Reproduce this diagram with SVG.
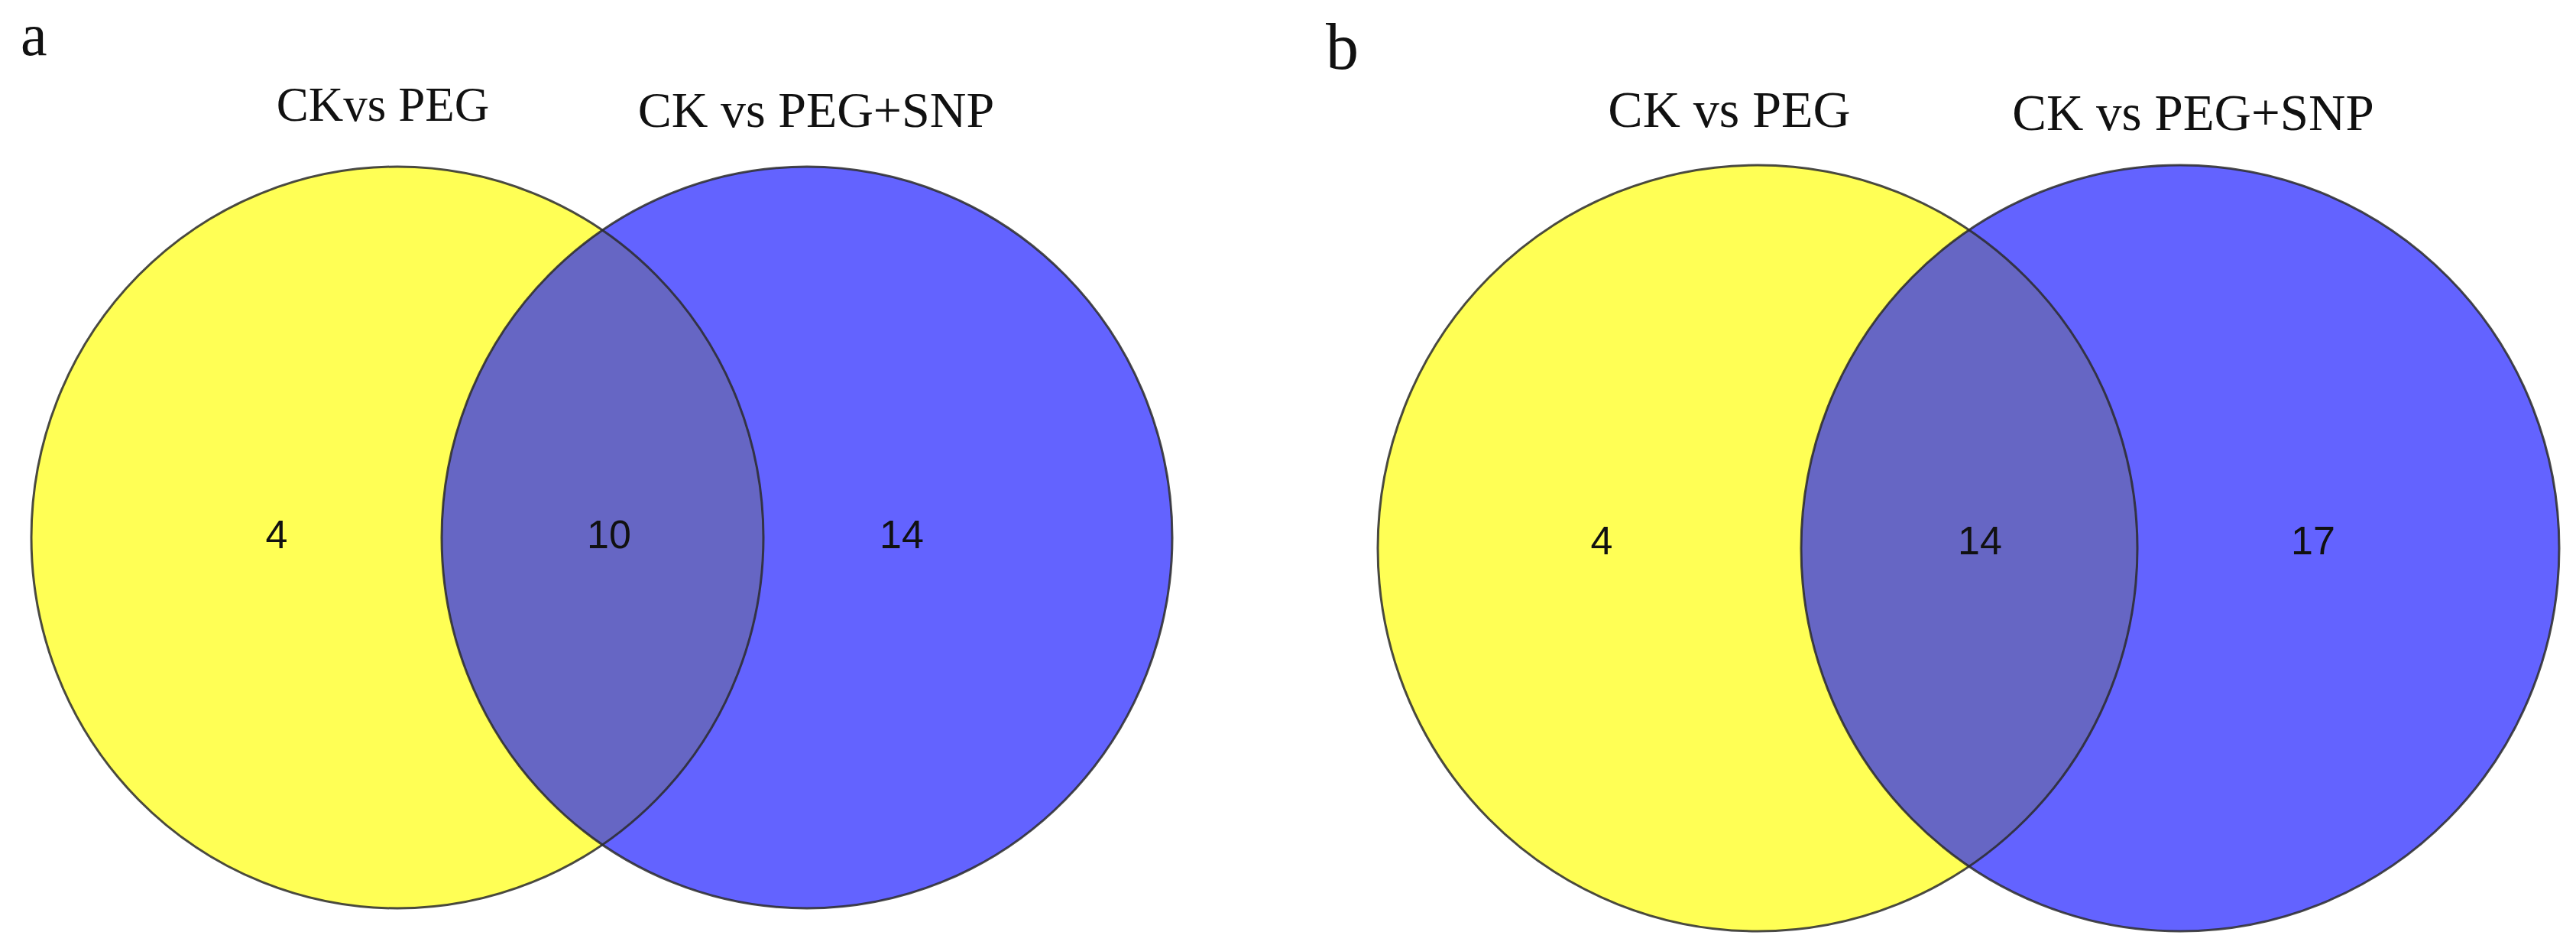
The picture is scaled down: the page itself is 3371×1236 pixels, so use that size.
<svg xmlns="http://www.w3.org/2000/svg" width="3371" height="1236" viewBox="0 0 3371 1236">
<style>
.panel{font-family:"Liberation Serif","Times New Roman",serif;fill:#111}
.title{font-family:"Liberation Serif","Times New Roman",serif;fill:#111;text-anchor:middle}
.num{font-family:"Liberation Sans",Arial,sans-serif;font-size:52px;fill:#111;text-anchor:middle}
.yel{fill:#FFFF55}
.blu{fill:#6363FF}
.ovl{fill:#6666C4}
.edge{fill:none;stroke:#2a2a2a;stroke-width:3;stroke-opacity:0.85}
</style>
<defs>
<clipPath id="clipA"><ellipse cx="1056" cy="703" rx="478" ry="485"/></clipPath>
<clipPath id="clipB"><ellipse cx="2853" cy="717" rx="496" ry="501"/></clipPath>
</defs>
<rect width="3371" height="1236" fill="#ffffff"/>
<g id="panel-a">
<text class="panel" x="27" y="72" font-size="78">a</text>
<g id="a-set1">
<ellipse class="yel" cx="520" cy="703" rx="479" ry="485"/>
<text class="title" x="501" y="158" font-size="63">CKvs PEG</text>
</g>
<g id="a-set2">
<ellipse class="blu" cx="1056" cy="703" rx="478" ry="485"/>
<text class="title" x="1068" y="166" font-size="66">CK vs PEG+SNP</text>
</g>
<g id="a-overlap">
<ellipse class="ovl" cx="520" cy="703" rx="479" ry="485" clip-path="url(#clipA)"/>
</g>
<ellipse class="edge" cx="520" cy="703" rx="479" ry="485"/>
<ellipse class="edge" cx="1056" cy="703" rx="478" ry="485"/>
<text class="num" x="362" y="717">4</text>
<text class="num" x="797" y="717">10</text>
<text class="num" x="1180" y="717">14</text>
</g>
<g id="panel-b">
<text class="panel" x="1735" y="90" font-size="86">b</text>
<g id="b-set1">
<ellipse class="yel" cx="2300" cy="717" rx="497" ry="501"/>
<text class="title" x="2263" y="166" font-size="68">CK vs PEG</text>
</g>
<g id="b-set2">
<ellipse class="blu" cx="2853" cy="717" rx="496" ry="501"/>
<text class="title" x="2870" y="170" font-size="67">CK vs PEG+SNP</text>
</g>
<g id="b-overlap">
<ellipse class="ovl" cx="2300" cy="717" rx="497" ry="501" clip-path="url(#clipB)"/>
</g>
<ellipse class="edge" cx="2300" cy="717" rx="497" ry="501"/>
<ellipse class="edge" cx="2853" cy="717" rx="496" ry="501"/>
<text class="num" x="2096" y="725">4</text>
<text class="num" x="2591" y="725">14</text>
<text class="num" x="3027" y="725">17</text>
</g>
<g id="connectors"/>
</svg>
